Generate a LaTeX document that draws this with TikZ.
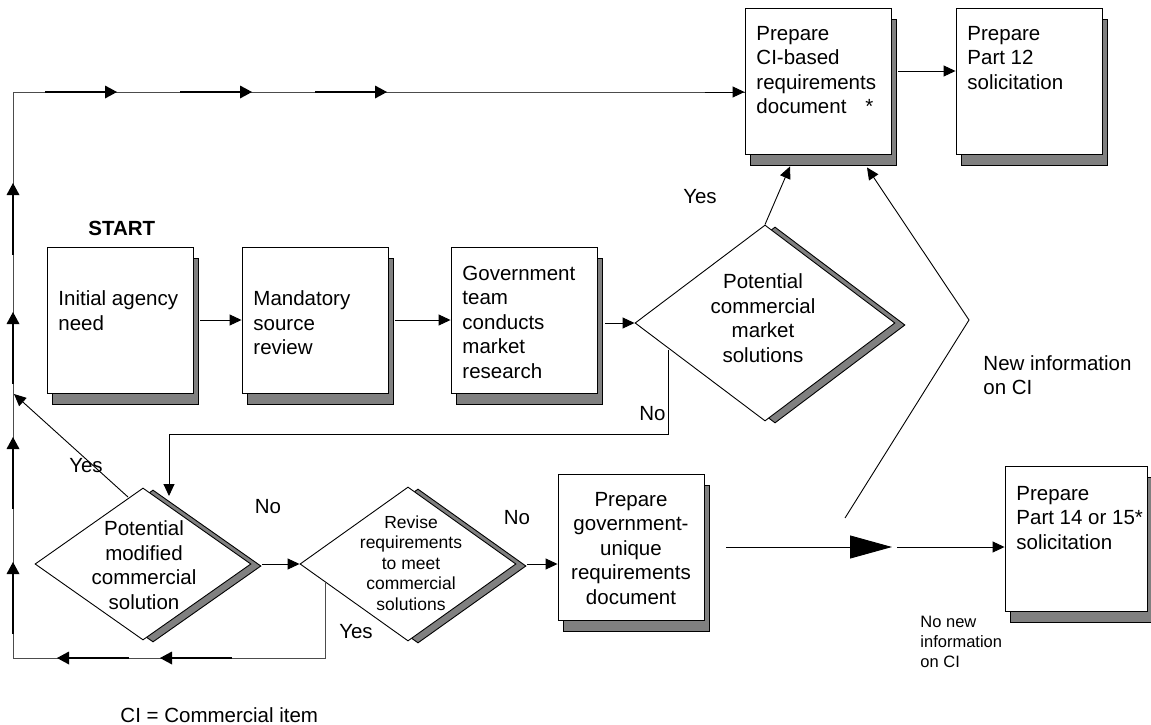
\documentclass[tikz,border=0pt]{standalone}
\usepackage{fontspec}
\setmainfont{Liberation Sans}
\usetikzlibrary{arrows.meta,shapes.geometric,shadows,decorations.markings}
\definecolor{shadowgray}{HTML}{808080}
\newcommand\loopmark{\draw[black,line width=1.2pt] (-72pt,0pt) -- (-8pt,0pt);\fill[black] (0pt,0pt) -- (-12pt,6.5pt) -- (-12pt,-6.5pt) -- cycle;}
\begin{document}
\begin{tikzpicture}[x=1pt,y=-1pt,line width=0.9pt,
  tip/.style={-{Triangle[length=12pt,width=11pt]}},
  box/.style={draw=black,fill=white,minimum width=146pt,minimum height=146pt,inner sep=0,
    general shadow={shadow xshift=5pt,shadow yshift=-11pt,fill=shadowgray,draw=black}},
  dia/.style={draw=black,fill=white,shape=diamond,inner sep=0,
    general shadow={shadow xshift=10pt,shadow yshift=-2pt,fill=shadowgray,draw=black}},
  txt/.style={font=\fontsize{20.5}{24.5}\selectfont,inner sep=0,align=left},
  stxt/.style={font=\fontsize{17.5}{20.5}\selectfont,inner sep=0,align=center},
  ntxt/.style={font=\fontsize{16.5}{20}\selectfont,inner sep=0,align=left},
  loopline/.style={draw=black!70,line width=1pt}
]
\useasboundingbox (0,0) rectangle (1151,725);

% boxes
\node[box] (ci) at (818,81) {};
\node[box] (p12) at (1029,81) {};
\node[box] (b1) at (120,320) {};
\node[box] (b2) at (315,320) {};
\node[box] (b3) at (524,320) {};
\node[box] (g) at (631,547) {};
\node[box,minimum width=142pt,minimum height=145pt] (p14) at (1076,538.5) {};

% diamonds
\node[dia,minimum width=260pt,minimum height=196pt] (d1) at (765,323) {};
\node[dia,minimum width=216pt,minimum height=152pt] (d2) at (143,564) {};
\node[dia,minimum width=216pt,minimum height=154pt] (d3) at (408,564) {};

% box texts
\node[txt,anchor=north west] (tci) at (756,25.5) {Prepare\\CI-based\\requirements\\document\hspace{19pt}*};
\node[txt,anchor=north west] (tp12) at (967,25.5) {Prepare\\Part 12\\solicitation};
\node[txt,anchor=north west] (tb1) at (58,290.5) {Initial agency\\need};
\node[txt,anchor=north west] (tb2) at (253,290.5) {Mandatory\\source\\review};
\node[txt,anchor=north west] (tb3) at (462,265.5) {Government\\team\\conducts\\market\\research};
\node[txt,anchor=north,align=center] (tg) at (631,491.5) {Prepare\\government-\\unique\\requirements\\document};
\node[txt,anchor=north west] (tp14) at (1016,485.5) {Prepare\\Part 14 or 15*\\solicitation};

% diamond texts
\node[txt,align=center] (td1) at (763,318) {Potential\\commercial\\market\\solutions};
\node[txt,align=center] (td2) at (144,565) {Potential\\modified\\commercial\\solution};
\node[stxt] (td3) at (411,563) {Revise\\requirements\\to meet\\commercial\\solutions};

% labels
\node[txt,font=\fontsize{20.5}{24.5}\selectfont\bfseries,anchor=west] (start) at (88,228) {START};
\node[txt] (yes1) at (700,197) {Yes};
\node[txt,anchor=east] (no1) at (666,414) {No};
\node[txt] (yes2) at (86,466) {Yes};
\node[txt] (no2) at (268,507) {No};
\node[txt] (no3) at (517,518) {No};
\node[txt] (yes3) at (356,632) {Yes};
\node[txt,anchor=north west] (newinfo) at (983,355) {New information\\on CI};
\node[ntxt,anchor=north west] (nonew) at (920,616) {No new\\information\\on CI};
\node[txt,anchor=west] (legend) at (120,715) {CI = Commercial item};

% coordinates
\coordinate (yesR) at (325,582);
\coordinate (LB) at (13,658);
\coordinate (LT) at (13,92);
\coordinate (noS) at (668,350);
\coordinate (arrd2) at (169,496);
\coordinate (yesL) at (128,497);
\coordinate (lefthit) at (14,394);
\coordinate (ni) at (845,518);
\coordinate (bend) at (969,320);
\coordinate (bigtip) at (892,547);
\coordinate (mid) at (897,547);

% main return loop
\draw[loopline,postaction={decorate},decoration={markings,
  mark=at position 241pt with {\loopmark},
  mark=at position 344pt with {\loopmark},
  mark=at position 484pt with {\loopmark},
  mark=at position 609pt with {\loopmark},
  mark=at position 734pt with {\loopmark},
  mark=at position 863pt with {\loopmark},
  mark=at position 1058pt with {\loopmark},
  mark=at position 1193pt with {\loopmark},
  mark=at position 1328pt with {\loopmark}}]
  (yesR) -- (yesR |- LB) -- (LB) -- (LT) -- (ci.west |- LT);
\draw[black,line width=1pt,tip] ([xshift=-40pt]ci.west |- LT) -- (ci.west |- LT);

% connectors
\draw[tip] ([xshift=7pt]ci.east |- 0,71) -- (p12.west |- 0,71);
\draw[tip] ([xshift=7pt]b1.east) -- (b2.west);
\draw[tip] ([xshift=7pt]b2.east) -- (b3.west);
\draw[tip] ([xshift=8pt]b3.east |- d1.west) -- (d1.west);
\draw[tip] (d1.north) -- ([xshift=-28pt,yshift=-12pt]ci.south);
\draw[tip] (noS) -- (noS |- 0,434) -- (arrd2 |- 0,434) -- (arrd2);
\draw[tip] (yesL) -- (lefthit);
\draw[tip] ([xshift=11pt]d2.east) -- (d3.west);
\draw[tip] ([xshift=11pt]d3.east) -- (g.west |- d3.east);
\draw[-{Triangle[length=42pt,width=23pt]}] ([xshift=22pt]g.east) -- (bigtip);
\draw[tip] (mid) -- (mid -| p14.west);
\draw[tip] (ni) -- (bend) -- ([xshift=49pt,yshift=-13pt]ci.south);
\end{tikzpicture}
\end{document}
